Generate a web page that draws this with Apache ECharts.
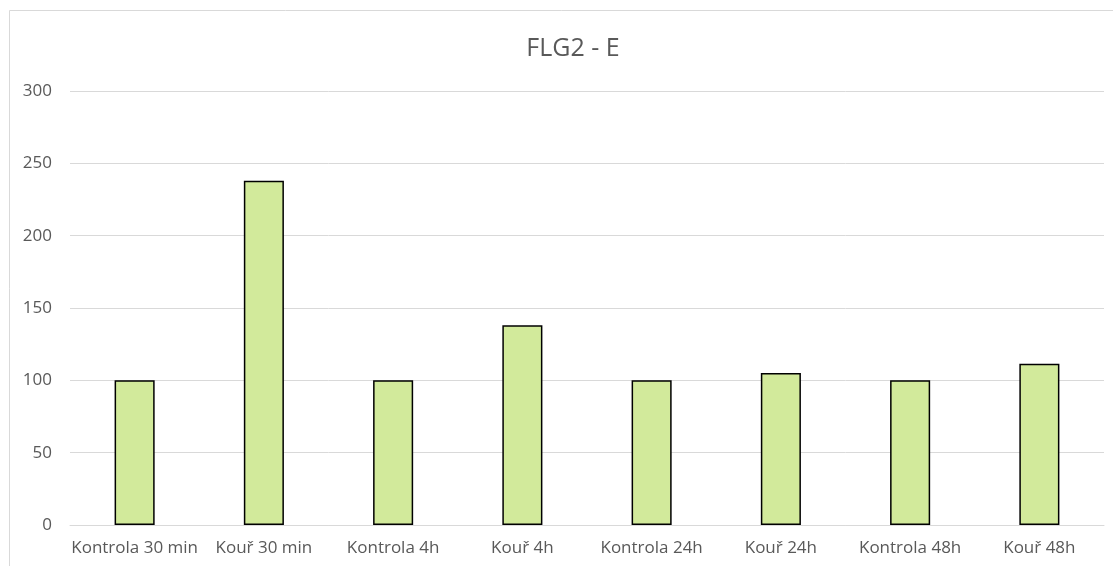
<!DOCTYPE html>
<html>
<head>
<meta charset="utf-8">
<script src="https://cdn.jsdelivr.net/npm/echarts@6/dist/echarts.min.js"></script>
<style>
  html, body { margin: 0; padding: 0; background: #fff; }
  #chart { width: 1113px; height: 566px; }
</style>
</head>
<body>
<div id="chart"></div>
<script>
// FLG2 - E: relative expression per group
const categories = ['Kontrola 30 min', 'Kouř 30 min', 'Kontrola 4h', 'Kouř 4h',
                    'Kontrola 24h', 'Kouř 24h', 'Kontrola 48h', 'Kouř 48h'];
const values = [100, 238, 100, 138, 100, 105, 100, 111.5];
const yTicks = { min: 0, max: 300, interval: 50 };
const titleText = 'FLG2 - E';

const font = '"Open Sans", "Liberation Sans", sans-serif';
const chart = echarts.init(document.getElementById('chart'), null, { renderer: 'canvas' });

chart.setOption({
  animation: false,
  backgroundColor: '#ffffff',
  graphic: [{
    type: 'rect',
    shape: { x: 9.5, y: 10.5, width: 1120, height: 600 },
    style: { fill: 'none', stroke: '#d9d9d9', lineWidth: 1 },
    silent: true
  }],
  title: {
    text: titleText,
    left: 568,
    textAlign: 'center',
    top: 31,
    textStyle: { fontFamily: font, fontSize: 25, fontWeight: 'normal', color: '#595959' }
  },
  grid: { left: 70, right: 9, top: 91, bottom: 41, containLabel: false },
  xAxis: {
    type: 'category',
    data: categories,
    axisLine: { show: true, lineStyle: { color: '#d9d9d9', width: 1 } },
    axisTick: { show: false },
    axisLabel: { fontFamily: font, fontSize: 17, color: '#595959', margin: 15, interval: 0 }
  },
  yAxis: {
    type: 'value',
    min: yTicks.min,
    max: yTicks.max,
    interval: yTicks.interval,
    axisLine: { show: false },
    axisTick: { show: false },
    splitLine: { lineStyle: { color: '#d9d9d9', width: 1 } },
    axisLabel: { fontFamily: font, fontSize: 17, color: '#595959', margin: 18 }
  },
  series: [{
    type: 'bar',
    data: values,
    barWidth: '31%',
    itemStyle: { color: '#d2ea9b', borderColor: '#000000', borderWidth: 1.5 }
  }]
});
</script>
</body>
</html>
